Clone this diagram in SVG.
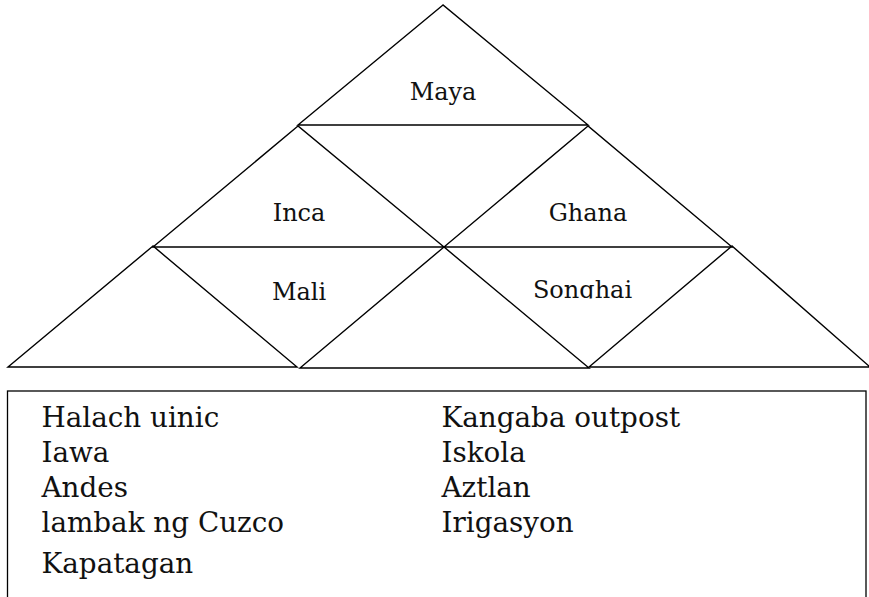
<svg xmlns="http://www.w3.org/2000/svg" width="869" height="597" viewBox="0 0 869 597">
<style>
.tri{fill:none;stroke:#000;stroke-width:1.4;stroke-linejoin:miter}
.inv{fill:none;stroke:none}
.lbl{font-family:"DejaVu Serif","Liberation Serif",serif;font-size:24px;fill:#111;text-anchor:middle}
.item{font-family:"DejaVu Serif","Liberation Serif",serif;font-size:27.8px;fill:#111}
</style>
<defs>
<clipPath id="clipSong"><rect x="0" y="0" width="869" height="298.5"/></clipPath>
</defs>
<rect width="869" height="597" fill="#fff"/>
<g id="connectors">
<polygon class="tri" points="153,246 8,367 297,367"/>
<polygon class="tri" points="444,247 300,368 589,368"/>
<polygon class="tri" points="732,246 589,367 870,367"/>
<polygon class="inv" points="298,125 588,125 444,247"/>
</g>
<g id="maya">
<polygon class="tri" points="443,5 298,125 588,125"/>
<text class="lbl" x="443" y="100">Maya</text>
</g>
<g id="inca">
<polygon class="tri" points="298,126 153,247 444,247"/>
<text class="lbl" x="299" y="221">Inca</text>
</g>
<g id="ghana">
<polygon class="tri" points="588,126 444,247 732,247"/>
<text class="lbl" x="588" y="221">Ghana</text>
</g>
<g id="mali">
<polygon class="inv" points="153,247 444,247 298,367"/>
<text class="lbl" x="299" y="300">Mali</text>
</g>
<g id="songhai">
<polygon class="inv" points="444,247 732,247 589,367"/>
<text class="lbl" x="582.5" y="298" clip-path="url(#clipSong)">Songhai</text>
</g>
<g id="terms">
<rect x="7.5" y="391" width="858.5" height="230" fill="none" stroke="#000" stroke-width="1.3"/>
<text class="item" x="41.5" y="427">Halach uinic</text>
<text class="item" x="41.5" y="462">Iawa</text>
<text class="item" x="41.5" y="497">Andes</text>
<text class="item" x="41.5" y="532">lambak ng Cuzco</text>
<text class="item" x="41.5" y="573">Kapatagan</text>
<text class="item" x="441.5" y="427">Kangaba outpost</text>
<text class="item" x="441.5" y="462">Iskola</text>
<text class="item" x="441.5" y="497">Aztlan</text>
<text class="item" x="441.5" y="532">Irigasyon</text>
</g>
</svg>
